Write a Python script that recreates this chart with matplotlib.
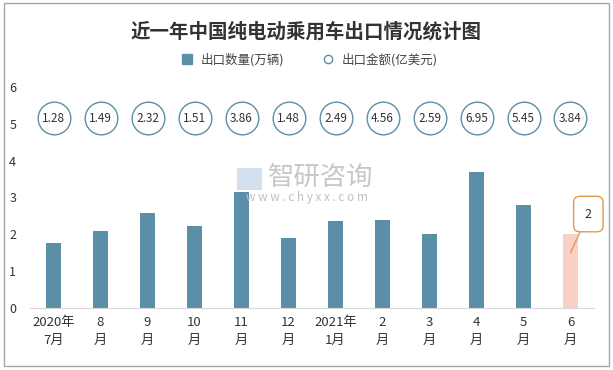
import matplotlib.pyplot as plt
from matplotlib.patches import Rectangle
from matplotlib.lines import Line2D

plt.rcParams['font.family'] = ['Noto Sans CJK SC', 'DejaVu Sans']

months = ['2020年\n7月', '8\n月', '9\n月', '10\n月', '11\n月', '12\n月',
          '2021年\n1月', '2\n月', '3\n月', '4\n月', '5\n月', '6\n月']
volume = [1.77, 2.09, 2.59, 2.23, 3.16, 1.89, 2.35, 2.39, 2.01, 3.70, 2.80, 2.0]
amount = [1.28, 1.49, 2.32, 1.51, 3.86, 1.48, 2.49, 4.56, 2.59, 6.95, 5.45, 3.84]
circle_level = 5.15

bar_color = '#5b8fa8'
last_color = '#f8d0c6'

fig = plt.figure(figsize=(6.13, 3.70), dpi=100)
ax = fig.add_axes([0.049, 0.1676, 0.92, 0.5974])

x = list(range(len(months)))
colors = [bar_color] * (len(months) - 1) + [last_color]
ax.bar(x, volume, width=0.3, color=colors, zorder=2)

ax.scatter(x, [circle_level] * len(x), s=23.5 ** 2, facecolors='white',
           edgecolors='#5b8fa8', linewidths=1, zorder=3)
for xi, v in zip(x, amount):
    ax.text(xi, circle_level, f'{v:.2f}', ha='center', va='center',
            fontsize=8.5, color='#333333', zorder=4)

# callout for last bar
ax.annotate(f'{volume[-1]:g}', xy=(x[-1], volume[-1] - 0.5),
            xytext=(x[-1] + 0.38, volume[-1] + 0.55), ha='center', va='center',
            fontsize=9, color='#333333',
            bbox=dict(boxstyle='round,pad=0.9,rounding_size=0.5', fc='white',
                      ec='#e09a50', lw=1),
            arrowprops=dict(arrowstyle='-', color='#e09a50', lw=1,
                            shrinkA=0, shrinkB=0))

ax.set_xlim(-0.5, len(months) - 0.5)
ax.set_ylim(0, 6)
ax.set_xticks(x)
ax.set_xticklabels(months, fontsize=9.5, color='#333333', linespacing=1.5)
ax.set_yticks(range(7))
ax.tick_params(axis='y', length=0, labelsize=9, labelcolor='#333333', pad=10)
ax.tick_params(axis='x', length=0, pad=6)
for s in ['top', 'right', 'left']:
    ax.spines[s].set_visible(False)
ax.spines['bottom'].set_color('#d9d9d9')

# watermark
fig.text(0.523, 0.52, '智研咨询', fontsize=19, color='#bdbdbd', ha='center',
         va='center', alpha=0.85)
fig.text(0.50, 0.466, 'w w w . c h y x x . c o m', fontsize=8.5, color='#c0c0c0',
         ha='center', va='center')
fig.patches.append(Rectangle((0.387, 0.487), 0.040, 0.06, transform=fig.transFigure,
                             fc='#c8d8e8', ec='none', alpha=0.8))

fig.suptitle('近一年中国纯电动乘用车出口情况统计图', y=0.94, fontsize=14,
             fontweight='bold', color='#333333')

handles = [Line2D([], [], marker='s', ls='', color=bar_color, markersize=7),
           Line2D([], [], marker='o', ls='', mfc='white', mec='#5b8fa8', markersize=6)]
fig.legend(handles, ['出口数量(万辆)', '出口金额(亿美元)'], loc='center',
           bbox_to_anchor=(0.5, 0.838), ncol=2, frameon=False, fontsize=9,
           handletextpad=0.1, columnspacing=2.5, labelcolor='#444444')

fig.patches.append(Rectangle((0.006, 0.01), 0.988, 0.982, transform=fig.transFigure,
                             fc='none', ec='#a6a6a6', lw=1))

fig.savefig('out.png', dpi=100)
